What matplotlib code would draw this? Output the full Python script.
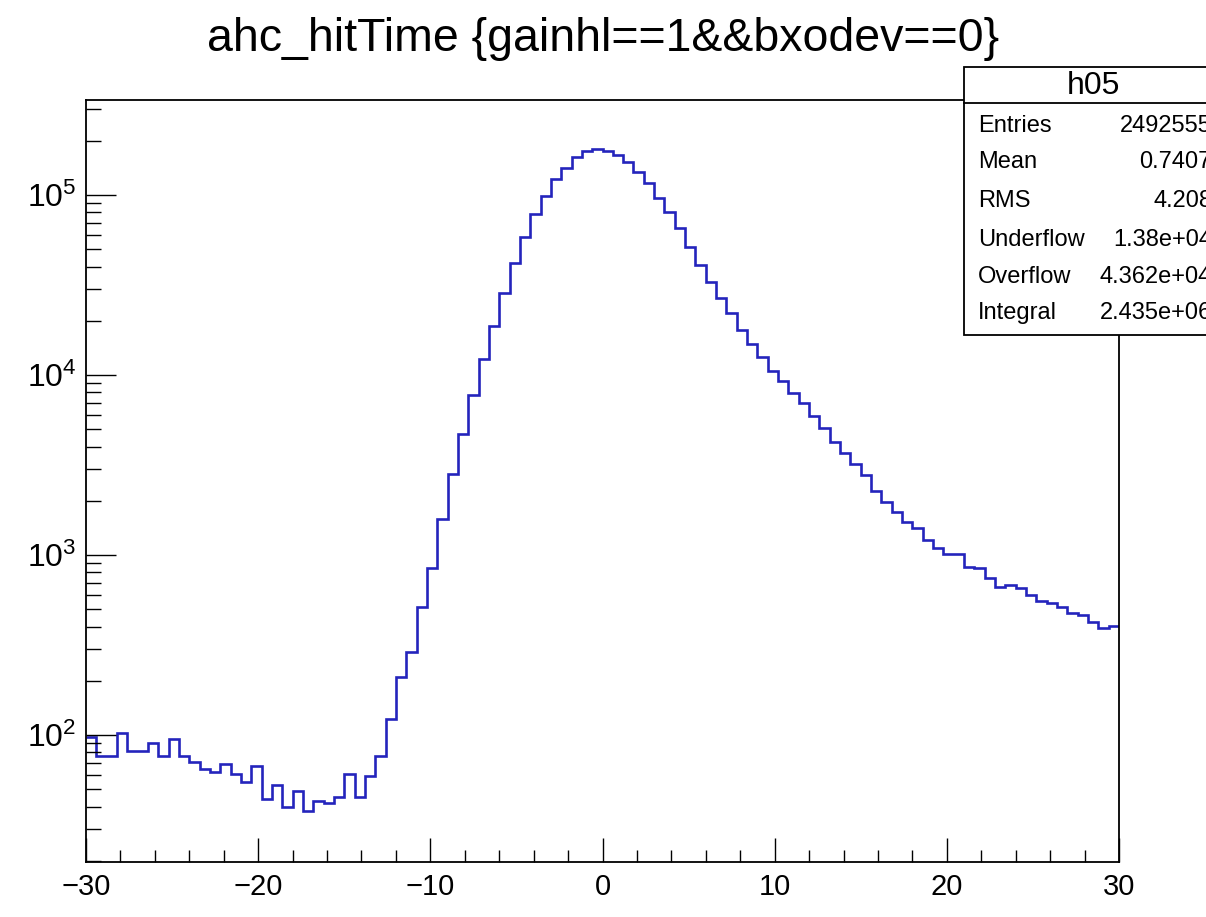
import numpy as np
import matplotlib
matplotlib.use("Agg")
import matplotlib.pyplot as plt
from matplotlib.patches import Rectangle
from matplotlib.lines import Line2D

plt.rcParams['font.family'] = ['Liberation Sans', 'DejaVu Sans']
plt.rcParams['mathtext.fontset'] = 'custom'
plt.rcParams['mathtext.rm'] = 'Liberation Sans'
plt.rcParams['axes.unicode_minus'] = True

#histogram h05 : 100 bins from -30 to 30
x_min = -30
x_max = 30
n_bins = 100
counts = [98, 76, 76, 102, 81, 82, 90, 76, 95, 76,
          71, 65, 62, 69, 61, 55, 67, 44, 53, 40,
          49, 38, 43, 42, 45, 61, 45, 59, 76, 123,
          211, 290, 516, 844, 1579, 2808, 4684, 7743, 12270, 18720,
          28430, 42060, 58670, 78130, 99110, 122300, 141800, 163200, 175500, 180100,
          175500, 166800, 153100, 134700, 116100, 96600, 80750, 65310, 51620, 40840,
          32990, 26880, 22020, 17720, 14870, 12640, 10560, 9240, 7913, 6963,
          5934, 5090, 4227, 3710, 3190, 2783, 2273, 1978, 1740, 1531,
          1407, 1212, 1089, 1009, 1009, 861, 844, 742, 667, 681,
          653, 600, 555, 539, 516, 474, 464, 423, 395, 405]

#stats box
stat_title = "h05"
stat_names = ["Entries", "Mean", "RMS", "Underflow", "Overflow", "Integral"]
stat_values = ["2492555", "0.7407", "4.208", "1.38e+04", "4.362e+04", "2.435e+06"]

W, H = 1206, 917
fig = plt.figure(figsize=(W / 100, H / 100), dpi=100)

def fx(px):
    return px / W

def fy(py):
    return 1 - py / H

# axes frame in pixels: left 86, right 1119, top 100, bottom 862
ax = fig.add_axes([fx(86), fy(862), fx(1119) - fx(86), fy(100) - fy(862)])

edges = np.linspace(x_min, x_max, n_bins + 1)
ax.stairs(counts, edges, baseline=None, color='#2424bc', linewidth=1.9)

ax.set_yscale('log')
ax.set_xlim(x_min, x_max)
ax.set_ylim(19.7, 3.37e5)

ax.set_xticks(np.arange(-30, 31, 10))
ax.set_xticks(np.arange(-30, 31, 2), minor=True)
ax.set_yticks([1e2, 1e3, 1e4, 1e5])

for s in ax.spines.values():
    s.set_linewidth(1.3)

ax.tick_params(axis='x', which='major', direction='in', length=17, width=1, labelsize=21, pad=8)
ax.tick_params(axis='x', which='minor', direction='in', length=8.5, width=1)
ax.tick_params(axis='y', which='major', direction='in', length=21.5, width=1, labelsize=23, pad=7)
ax.tick_params(axis='y', which='minor', direction='in', length=10.8, width=1, labelleft=False)

#title
fig.text(fx(603), fy(39), "ahc_hitTime {gainhl==1&&bxodev==0}", ha='center', va='center', fontsize=33.5)

#stats box, runs past the right edge of the picture
box = Rectangle((fx(964), fy(335)), fx(1260) - fx(964), fy(67) - fy(335),
                transform=fig.transFigure, facecolor='white', edgecolor='black',
                linewidth=1.3, zorder=5, clip_on=False)
fig.add_artist(box)
fig.add_artist(Line2D([fx(964), fx(1260)], [fy(103), fy(103)], transform=fig.transFigure,
                      color='black', linewidth=1.3, zorder=6))
fig.text(fx(1093), fy(86), stat_title, ha='center', va='center', fontsize=23, zorder=7)

row_y = [126, 162, 201, 240, 277, 313]
for name, val, yy in zip(stat_names, stat_values, row_y):
    fig.text(fx(978), fy(yy), name, ha='left', va='center', fontsize=17, zorder=7)
    fig.text(fx(1212), fy(yy), val, ha='right', va='center', fontsize=17, zorder=7)

fig.savefig("out.png", dpi=100)
